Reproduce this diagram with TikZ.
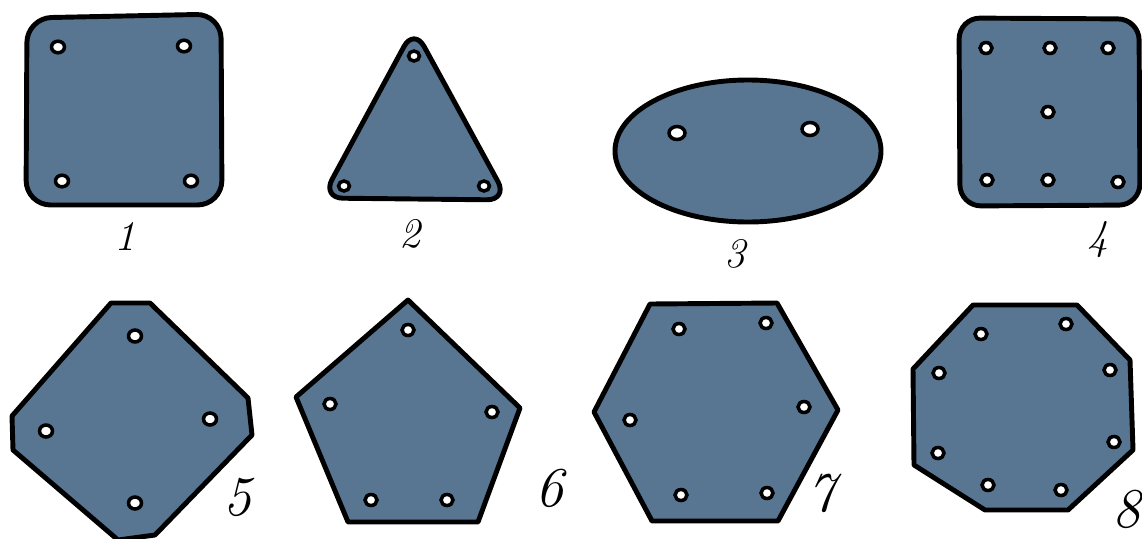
\documentclass[tikz,border=0pt]{standalone}
\usepackage{amsmath,amssymb}
\usetikzlibrary{arrows.meta}
\definecolor{plateblue}{RGB}{88,118,146}

\begin{document}
\begin{tikzpicture}[x=0.02cm, y=-0.02cm,
	plate/.style={fill=plateblue, draw=black, line width=2.8pt, line join=round},
	hole/.style={fill=white, draw=black, line width=2pt},
	num/.style={font=\fontsize{24}{28}\selectfont\itshape},
	bignum/.style={font=\fontsize{32}{36}\selectfont\itshape}]
	\useasboundingbox (0,0) rectangle (1142,538);
	% top row
	\draw[plate, rounded corners=14] (27,18) -- (221,14) -- (222,205) -- (26,205) -- cycle;
	\foreach \x/\y in {58/47, 184/46, 62/181, 191/181}
		\draw[hole] (\x,\y) ellipse (6.5 and 5.8);
	\node[num] (n1) at (125,236) {1};
	\draw[plate, rounded corners=12] (414,28) -- (508,200) -- (322,198) -- cycle;
	\foreach \x/\y in {414/56, 344/186, 484/186}
		\draw[hole] (\x,\y) ellipse (5.5 and 5);
	\node[num] (n2) at (410,234) {2};
	\draw[plate] (748,151) ellipse (133 and 71);
	\foreach \x/\y in {677/133, 810/129}
		\draw[hole] (\x,\y) ellipse (8 and 6.5);
	\node[num] (n3) at (735,254) {3};
	\draw[plate, rounded corners=12] (959,18) -- (1139,19) -- (1140,205) -- (960,206) -- cycle;
	\foreach \x/\y in {986/48, 1050/48, 1108/48, 1048/112, 987/180, 1048/180, 1118/182}
		\draw[hole] (\x,\y) ellipse (6 and 5.5);
	\node[num] (n4) at (1098,240) {4};
	% bottom row
	\draw[plate] (111,303) -- (150,303) -- (248,398) -- (252,435) -- (155,535) -- (118,540)
		-- (13,450) -- (12,416) -- cycle;
	\foreach \x/\y in {135/336, 210/419, 46/431, 135/503}
		\draw[hole] (\x,\y) ellipse (6.5 and 6);
	\node[bignum] (n5) at (238,497) {5};
	\draw[plate] (408,300) -- (520,408) -- (478,522) -- (348,522) -- (296,397) -- cycle;
	\foreach \x/\y in {408/330, 330/404, 492/412, 371/500, 447/500}
		\draw[hole] (\x,\y) ellipse (6 and 5.5);
	\node[bignum] (n6) at (550,488) {6};
	\draw[plate] (650,304) -- (777,303) -- (838,410) -- (778,521) -- (652,521) -- (594,412) -- cycle;
	\foreach \x/\y in {679/329, 766/323, 630/420, 804/407, 681/495, 767/493}
		\draw[hole] (\x,\y) ellipse (6 and 5.5);
	\node[bignum] (n7) at (822,493) {7};
	\draw[plate] (973,305) -- (1077,305) -- (1130,360) -- (1133,450) -- (1068,510) -- (985,510)
		-- (914,465) -- (913,369) -- cycle;
	\foreach \x/\y in {981/334, 1066/324, 939/373, 1110/370, 938/453, 1114/442, 988/485, 1061/490}
		\draw[hole] (\x,\y) ellipse (6 and 5.5);
	\node[bignum, inner sep=0pt] (n8) at (1127,509) {8};
\end{tikzpicture}
\end{document}
